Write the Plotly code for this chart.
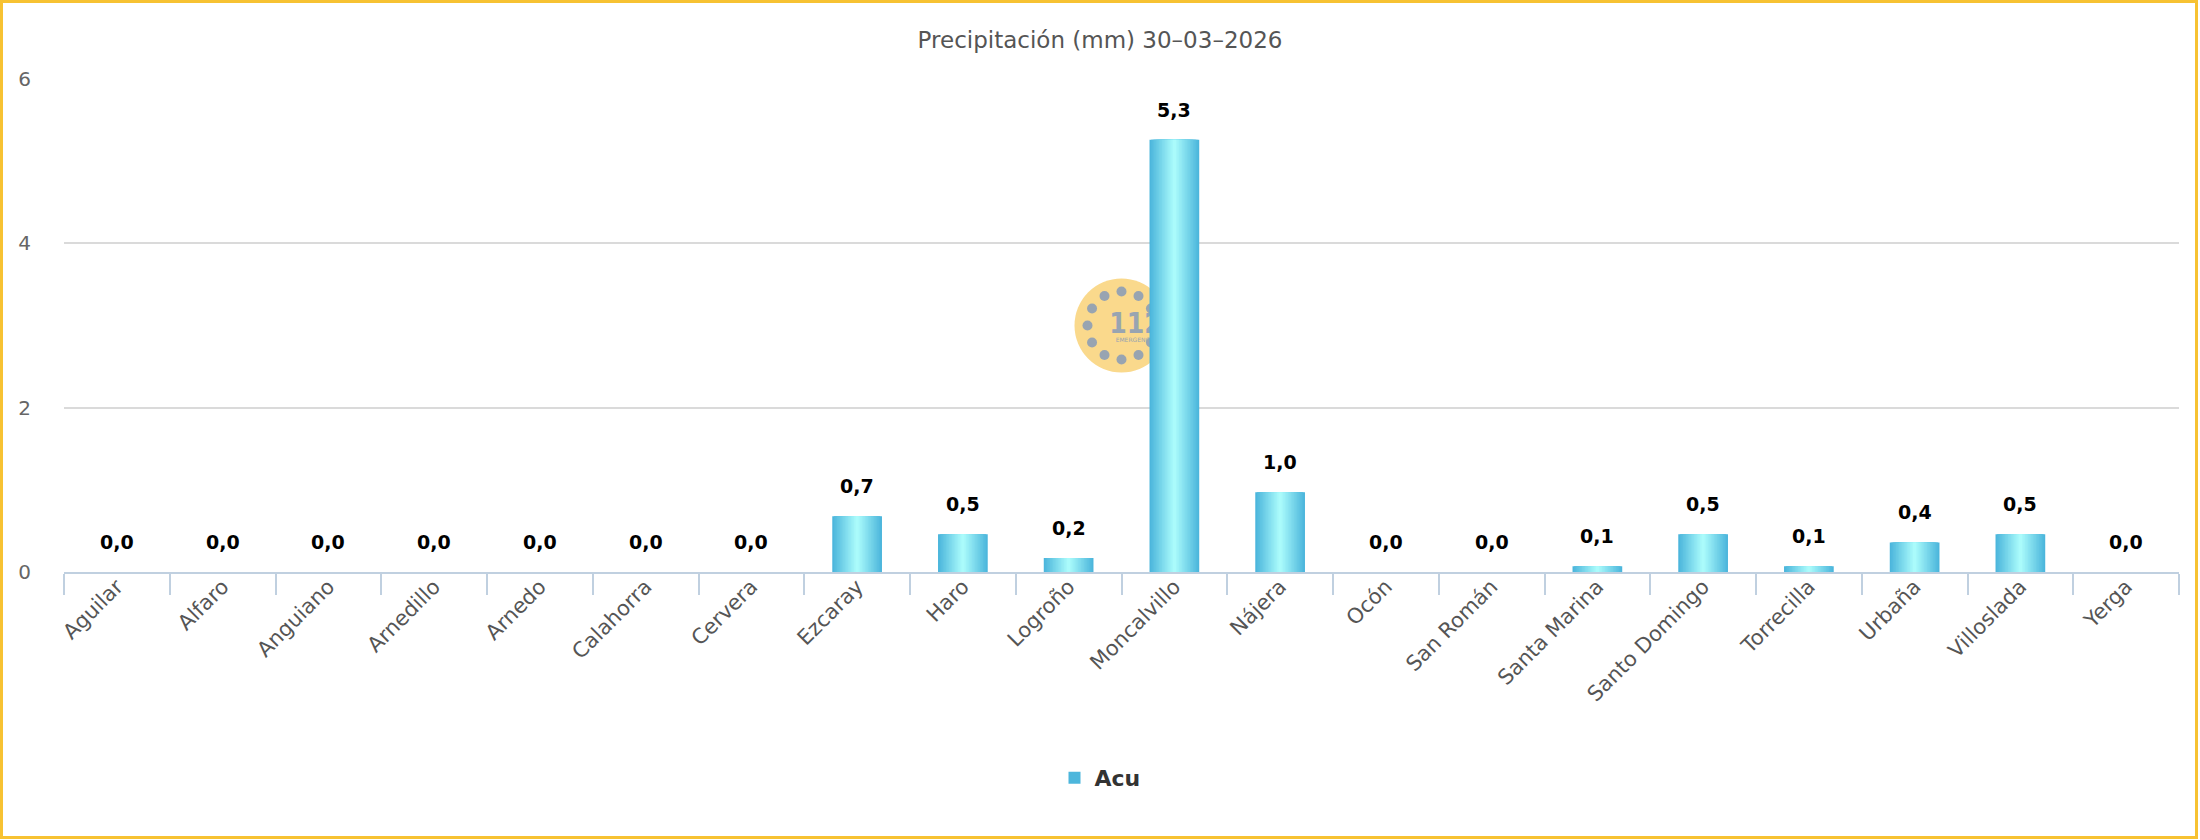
import math
import plotly.graph_objects as go

# ---------------- data ----------------
stations = ["Aguilar", "Alfaro", "Anguiano", "Arnedillo", "Arnedo", "Calahorra",
            "Cervera", "Ezcaray", "Haro", "Logroño", "Moncalvillo", "Nájera",
            "Ocón", "San Román", "Santa Marina", "Santo Domingo", "Torrecilla",
            "Urbaña", "Villoslada", "Yerga"]
acu = [0, 0, 0, 0, 0, 0, 0, 0.68, 0.46, 0.17, 5.26, 0.97,
       0, 0, 0.07, 0.46, 0.07, 0.36, 0.46, 0]
y_ticks = [0, 2, 4, 6]
series_name = "Acu"
title_text = "Precipitación (mm) 30–03–2026"

# ---------------- layout constants ----------------
W, H = 2200, 840
ML, MR, MT, MB = 64, 21, 79, 268
PW, PH = W - ML - MR, H - MT - MB

FONT = "DejaVu Sans, Verdana, sans-serif"


def px_x(p):
    return (p - ML) / PW


def px_y(p):
    return (MT + PH - p) / PH


fig = go.Figure()

# gradient bars: overlaid layers, narrowing towards the lighter centre
edge = (76, 182, 220)
centre = (170, 251, 251)
N = 16
BAR_W = 0.47
for k in range(N):
    t = k / (N - 1)
    col = "rgb(%d,%d,%d)" % tuple(round(edge[i] + (centre[i] - edge[i]) * t) for i in range(3))
    fig.add_trace(go.Bar(
        x=stations, y=acu, width=BAR_W * (1 - k / N),
        marker=dict(color=col, line=dict(width=0)),
        name=series_name, showlegend=(k == 0),
        hoverinfo="x+y" if k == 0 else "skip",
    ))

# data labels
for s, v in zip(stations, acu):
    fig.add_annotation(
        x=s, y=v, text=f"{v:.1f}".replace(".", ","), showarrow=False,
        yanchor="middle", yshift=30,
        font=dict(family=FONT, size=19, color="#000000", weight="bold"),
    )

# watermark logo (112) behind the bars, centred in the plot area
LX, LY = ML + PW / 2, MT + PH / 2
shapes = []
shapes.append(dict(type="circle", xref="paper", yref="paper",
                   xsizemode="pixel", ysizemode="pixel", xanchor=0.5, yanchor=0.5,
                   x0=-47, x1=47, y0=-47, y1=47,
                   fillcolor="#fad98c", line=dict(width=0), layer="below"))
for a in range(0, 360, 30):
    cx = 34 * math.cos(math.radians(a))
    cy = 34 * math.sin(math.radians(a))
    shapes.append(dict(type="circle", xref="paper", yref="paper",
                       xsizemode="pixel", ysizemode="pixel", xanchor=0.5, yanchor=0.5,
                       x0=cx - 5, x1=cx + 5, y0=cy - 5, y1=cy + 5,
                       fillcolor="#98a4b1", line=dict(width=0), layer="below"))
shapes.append(dict(type="rect", xref="paper", yref="paper",
                   x0=px_x(LX - 12), x1=px_x(LX + 40),
                   y0=px_y(LY + 10), y1=px_y(LY - 18), line=dict(width=0),
                   fillcolor="rgba(0,0,0,0)", layer="below",
                   label=dict(text="<b>112</b>", textposition="middle center",
                              font=dict(family="DejaVu Sans Condensed, Liberation Sans Narrow, DejaVu Sans",
                                        size=28, color="#98a4b1"))))
shapes.append(dict(type="rect", xref="paper", yref="paper",
                   x0=px_x(LX - 9), x1=px_x(LX + 41),
                   y0=px_y(LY + 19), y1=px_y(LY + 9), line=dict(width=0),
                   fillcolor="rgba(0,0,0,0)", layer="below",
                   label=dict(text="EMERGENCIAS", textposition="middle center",
                              font=dict(family=FONT, size=6, color="#98a4b1"))))

# outer golden frame
shapes.append(dict(type="rect", xref="paper", yref="paper",
                   x0=px_x(1.5), x1=px_x(2196.5), y0=px_y(837.5), y1=px_y(1.5),
                   line=dict(color="#f7c232", width=3), fillcolor="rgba(0,0,0,0)",
                   layer="above"))

fig.update_layout(
    width=W, height=H,
    margin=dict(l=ML, r=MR, t=MT, b=MB, autoexpand=False),
    paper_bgcolor="#ffffff", plot_bgcolor="#ffffff",
    barmode="overlay",
    title=dict(text=title_text, x=0.5, xanchor="center",
               y=1 - 40 / H, yanchor="middle", yref="container",
               font=dict(family=FONT, size=23, color="#555555")),
    xaxis=dict(type="category", showgrid=False, zeroline=False,
               showline=True, linecolor="#c0d0e0", linewidth=2,
               ticks="outside", tickson="boundaries", ticklen=21, tickwidth=2,
               tickcolor="#c0d0e0", tickangle=-45,
               tickfont=dict(family=FONT, size=21, color="#555555"),
               ticklabelstandoff=-8),
    yaxis=dict(range=[0, 6], tickvals=y_ticks, showgrid=True,
               gridcolor="#dadada", gridwidth=1.5, zeroline=False, showline=False,
               tickfont=dict(family=FONT, size=20, color="#666666"),
               ticklabelstandoff=32),
    legend=dict(orientation="h", x=px_x(1100), xanchor="center",
                y=px_y(778), yanchor="middle",
                font=dict(family=FONT, size=22, color="#333333", weight="bold")),
    shapes=shapes,
    showlegend=True,
)

fig.write_html("out.html")
